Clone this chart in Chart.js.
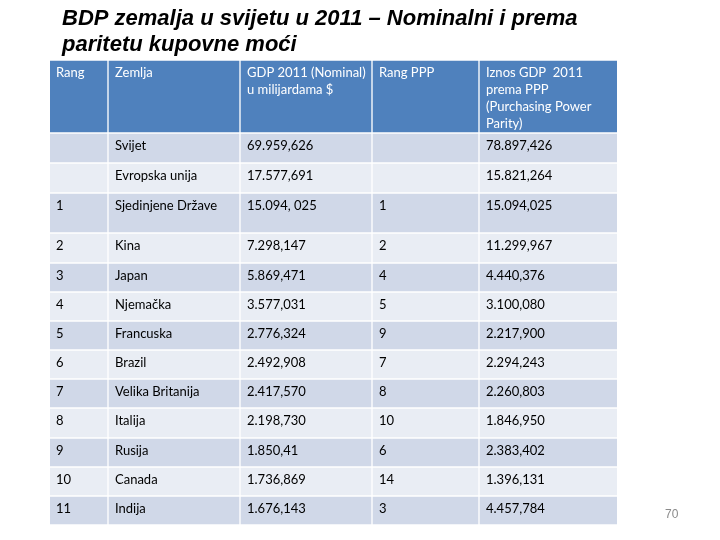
<!DOCTYPE html>
<html><head><meta charset="utf-8">
<script src="https://cdn.jsdelivr.net/npm/chart.js@4/dist/chart.umd.min.js"></script>
<style>html,body{margin:0;padding:0;background:#fff}canvas{display:block}</style>
</head><body>
<canvas id="c" width="720" height="540"></canvas>
<script>
// ---- data ----
const titleLines = ['BDP zemalja u svijetu u 2011 – Nominalni i prema', 'paritetu kupovne moći'];
const headers = [
  ['Rang'],
  ['Zemlja'],
  ['GDP 2011 (Nominal)', 'u milijardama $'],
  ['Rang PPP'],
  ['Iznos GDP  2011', 'prema PPP', '(Purchasing Power', 'Parity)']
];
const rang = ['', '', '1', '2', '3', '4', '5', '6', '7', '8', '9', '10', '11'];
const countries = ['Svijet', 'Evropska unija', 'Sjedinjene Države', 'Kina', 'Japan', 'Njemačka', 'Francuska', 'Brazil', 'Velika Britanija', 'Italija', 'Rusija', 'Canada', 'Indija'];
const gdpNominal = ['69.959,626', '17.577,691', '15.094, 025', '7.298,147', '5.869,471', '3.577,031', '2.776,324', '2.492,908', '2.417,570', '2.198,730', '1.850,41', '1.736,869', '1.676,143'];
const rangPPP = ['', '', '1', '2', '4', '5', '9', '7', '8', '10', '6', '14', '3'];
const gdpPPP = ['78.897,426', '15.821,264', '15.094,025', '11.299,967', '4.440,376', '3.100,080', '2.217,900', '2.294,243', '2.260,803', '1.846,950', '2.383,402', '1.396,131', '4.457,784'];
const pageNumber = '70';

// ---- layout (table units = px) ----
const colWidths = [58, 132, 132, 107, 138];
const rowHeights = [73, 30, 30, 40, 30, 29, 29, 29, 29, 29, 30, 29, 29, 29];
const headerColor = '#4F81BD';
const bandColors = ['#D0D8E8', '#E9EDF4'];
const cellFont = '13px Lato';
const textPadX = 6, textBaseline = 17, lineStep = 17;

const colEdges = [0];
colWidths.forEach(w => colEdges.push(colEdges[colEdges.length - 1] + w));
const rowEdges = [0];
rowHeights.forEach(h => rowEdges.push(rowEdges[rowEdges.length - 1] + h));
const tableW = colEdges[colEdges.length - 1];
const tableH = rowEdges[rowEdges.length - 1];
const nCols = colWidths.length;

const bodyRows = countries.map((c, i) => [[rang[i]], [c], [gdpNominal[i]], [rangPPP[i]], [gdpPPP[i]]]);
const allRows = [headers].concat(bodyRows);

function cellX(c) {
  const x0 = c === 0 ? colEdges[c] : colEdges[c] + 1;
  const x1 = c === nCols - 1 ? colEdges[c + 1] : colEdges[c + 1] - 1;
  return [x0, x1];
}

const datasets = allRows.map((row, r) => ({
  data: row.map((_, c) => ({ y: (rowEdges[r] + rowEdges[r + 1]) / 2, x: cellX(c) })),
  backgroundColor: r === 0 ? headerColor : bandColors[(r - 1) % 2],
  barThickness: rowHeights[r] - 2,
  borderWidth: 0,
  borderSkipped: false,
  grouped: false
}));

const textPlugin = {
  id: 'tableText',
  afterDatasetsDraw(chart) {
    const ctx = chart.ctx, xs = chart.scales.x, ys = chart.scales.y;
    ctx.save();
    ctx.textBaseline = 'alphabetic';
    ctx.textAlign = 'left';
    ctx.font = cellFont;
    allRows.forEach((row, r) => {
      ctx.fillStyle = r === 0 ? '#FFFFFF' : '#000000';
      const top = ys.getPixelForValue(rowEdges[r]);
      row.forEach((lines, c) => {
        const left = xs.getPixelForValue(cellX(c)[0]);
        lines.forEach((t, k) => ctx.fillText(t, left + textPadX, top + textBaseline + k * lineStep));
      });
    });
    // title
    ctx.fillStyle = '#000000';
    ctx.font = 'italic bold 22px "Liberation Sans", Arial, sans-serif';
    titleLines.forEach((t, k) => ctx.fillText(t, 62, 25 + k * 26));
    // page number
    ctx.fillStyle = '#8A8A8A';
    ctx.font = '12px "Liberation Sans", Arial, sans-serif';
    ctx.fillText(pageNumber, 665, 518);
    ctx.restore();
  }
};

new Chart(document.getElementById('c'), {
  type: 'bar',
  data: { datasets },
  options: {
    indexAxis: 'y',
    responsive: false,
    animation: false,
    events: [],
    devicePixelRatio: 1,
    layout: { padding: { left: 50, top: 60, right: 720 - 50 - tableW, bottom: 540 - 60 - tableH } },
    plugins: { legend: { display: false }, tooltip: { enabled: false }, title: { display: false } },
    scales: {
      x: { type: 'linear', min: 0, max: tableW, display: false, offset: false },
      y: { type: 'linear', min: 0, max: tableH, reverse: true, display: false, offset: false }
    }
  },
  plugins: [textPlugin]
});
</script>
</body></html>
